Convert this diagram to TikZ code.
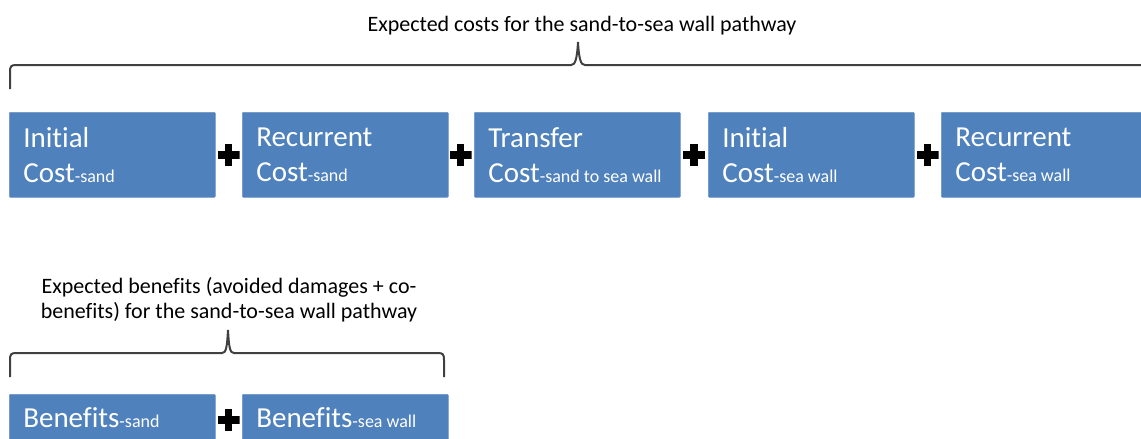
\documentclass[tikz,border=0pt]{standalone}
\usepackage{fontspec}
\setmainfont{Carlito}[Ligatures=NoCommon]
\definecolor{boxblue}{HTML}{4F81BD}
\definecolor{boxedge}{HTML}{6A95C8}
\definecolor{bracegray}{HTML}{404040}
\newcommand\subtxt[1]{\mbox{\fontsize{18}{18}\selectfont #1}}
\begin{document}
\begin{tikzpicture}[x=1pt,y=-1pt,
  costbox/.style={fill=boxblue, draw=boxedge, line width=0.6pt, rounded corners=1pt,
    text=white, anchor=north west, minimum width=206pt, minimum height=85pt,
    text width=178pt, inner xsep=14pt, inner ysep=0pt, align=flush left,
    font=\fontsize{29}{35}\selectfont},
  benbox/.style={costbox, minimum height=0pt, text height=21pt, text depth=40pt, inner ysep=12pt},
  plusnode/.style={minimum size=22pt, inner sep=0pt,
    path picture={
      \fill[black] ([xshift=-11pt,yshift=-3.9pt]path picture bounding box.center) rectangle ([xshift=11pt,yshift=3.9pt]path picture bounding box.center);
      \fill[black] ([xshift=-3.9pt,yshift=-11pt]path picture bounding box.center) rectangle ([xshift=3.9pt,yshift=11pt]path picture bounding box.center);
    }},
  bracestyle/.style={draw=bracegray, line width=2pt},
  labeltext/.style={inner sep=0pt, text=black, font=\fontsize{22}{25}\selectfont, align=center}
]
\useasboundingbox (0,0) rectangle (1141,439);

% top label and brace
\node[labeltext, anchor=base] (toplabel) at (582,31) {Expected costs for the sand-to-sea wall pathway};
\draw[bracestyle] (10,89) -- (10,72) .. controls (10,66.5) and (11,65) .. (16,65) -- (571,65)
  .. controls (575,65) and (577,60) .. (578,42) .. controls (579,60) and (581,65) .. (585,65) -- (1150,65);

% cost boxes
\node[costbox] (c1) at (9,112) {Initial\\Cost\subtxt{-sand}};
\node[costbox] (c2) at (242,112) {Recurrent\\Cost\subtxt{-sand}};
\node[costbox] (c3) at (474,112) {Transfer\\Cost\subtxt{-sand to sea wall}};
\node[costbox] (c4) at (708,112) {Initial\\Cost\subtxt{-sea wall}};
\node[costbox] (c5) at (941,112) {Recurrent\\Cost\subtxt{-sea wall}};

\node[plusnode] (p1) at (228.5,155) {};
\node[plusnode] (p2) at (460.5,155) {};
\node[plusnode] (p3) at (694,155) {};
\node[plusnode] (p4) at (927.5,155) {};

% benefits label and brace
\node[labeltext, anchor=north] (benlabel) at (229,277) {Expected benefits (avoided damages + co-\\benefits) for the sand-to-sea wall pathway};
\draw[bracestyle] (10,377) -- (10,360) .. controls (10,354.5) and (11,353) .. (16,353) -- (222,353)
  .. controls (226,353) and (227,348) .. (228,330) .. controls (229,348) and (230,353) .. (234,353)
  -- (438,353) .. controls (443,353) and (444,354.5) .. (444,360) -- (444,377);

% benefit boxes
\node[benbox] (b1) at (9,394) {Benefits\subtxt{-sand}};
\node[benbox] (b2) at (242,394) {Benefits\subtxt{-sea wall}};
\node[plusnode] (p5) at (228.5,420) {};
\end{tikzpicture}
\end{document}
